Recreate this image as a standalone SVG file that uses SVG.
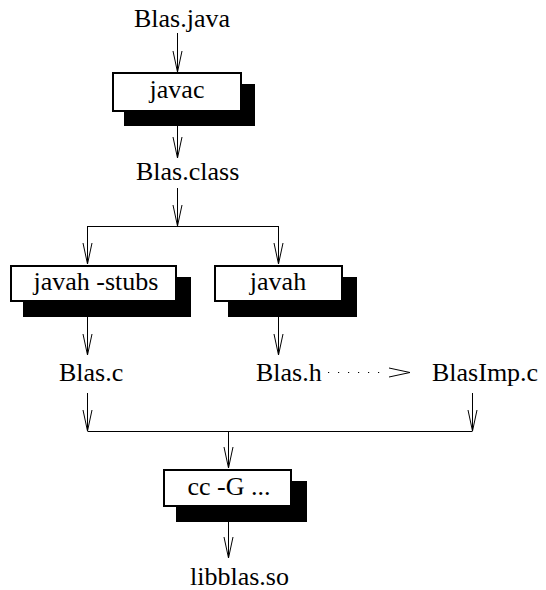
<svg xmlns="http://www.w3.org/2000/svg" width="546" height="590" viewBox="0 0 546 590">
<style>
text{font-family:"Liberation Serif","Times New Roman",Times,"DejaVu Serif",serif;font-size:26px;fill:#000}
.box{fill:#fff;stroke:#000;stroke-width:2}
.sh{fill:#000}
.c{fill:none;stroke:#000;stroke-width:1}
.d{stroke-dasharray:1.2 8.8}
.lbl{text-anchor:middle}
</style>
<defs>
<marker id="arr" markerUnits="userSpaceOnUse" markerWidth="24" markerHeight="12" refX="22" refY="6" orient="auto" overflow="visible">
<path d="M1,1.5 L22,6 L1,10.5" fill="none" stroke="#000" stroke-width="1"/>
</marker>
</defs>
<rect width="546" height="590" fill="#fff"/>
<g id="connectors">
<line class="c" x1="177.5" y1="33" x2="177.5" y2="72" marker-end="url(#arr)"/>
<line class="c" x1="177.5" y1="126" x2="177.5" y2="158" marker-end="url(#arr)"/>
<line class="c" x1="177.5" y1="188" x2="177.5" y2="226" marker-end="url(#arr)"/>
<polyline class="c" points="87.5,264 87.5,226.5 278.5,226.5"/>
<line class="c" x1="87.5" y1="226" x2="87.5" y2="264" marker-end="url(#arr)"/>
<line class="c" x1="278.5" y1="226" x2="278.5" y2="264" marker-end="url(#arr)"/>
<line class="c" x1="87.5" y1="317" x2="87.5" y2="355" marker-end="url(#arr)"/>
<line class="c" x1="278.5" y1="317" x2="278.5" y2="355" marker-end="url(#arr)"/>
<line class="c d" x1="328" y1="372.5" x2="388" y2="372.5"/>
<line class="c" x1="388" y1="372.5" x2="410" y2="372.5" stroke-opacity="0" marker-end="url(#arr)"/>
<line class="c" x1="87.5" y1="393" x2="87.5" y2="431" marker-end="url(#arr)"/>
<line class="c" x1="472.5" y1="393" x2="472.5" y2="431" marker-end="url(#arr)"/>
<line class="c" x1="87.5" y1="431.5" x2="472.5" y2="431.5"/>
<line class="c" x1="228.5" y1="431" x2="228.5" y2="468" marker-end="url(#arr)"/>
<line class="c" x1="228.5" y1="522" x2="228.5" y2="558" marker-end="url(#arr)"/>
</g>
<g id="blas-java"><text x="134" y="27">Blas.java</text></g>
<g id="javac">
<rect class="sh" x="124" y="84" width="131" height="42"/>
<rect class="box" x="113" y="73" width="128" height="38"/>
<text class="lbl" x="177" y="98">javac</text>
</g>
<g id="blas-class"><text x="136" y="180">Blas.class</text></g>
<g id="javah-stubs">
<rect class="sh" x="23" y="277" width="168" height="40"/>
<rect class="box" x="11" y="266" width="165" height="35"/>
<text class="lbl" x="96" y="290">javah -stubs</text>
</g>
<g id="javah">
<rect class="sh" x="228" y="277" width="129" height="40"/>
<rect class="box" x="215" y="266" width="127" height="35"/>
<text class="lbl" x="278" y="290">javah</text>
</g>
<g id="blas-c"><text x="59" y="381">Blas.c</text></g>
<g id="blas-h"><text x="256" y="381">Blas.h</text></g>
<g id="blasimp-c"><text x="432" y="381">BlasImp.c</text></g>
<g id="cc">
<rect class="sh" x="176" y="481" width="131" height="41"/>
<rect class="box" x="164" y="470" width="127" height="36"/>
<text class="lbl" x="229" y="495">cc -G ...</text>
</g>
<g id="libblas"><text x="190" y="585">libblas.so</text></g>
</svg>
